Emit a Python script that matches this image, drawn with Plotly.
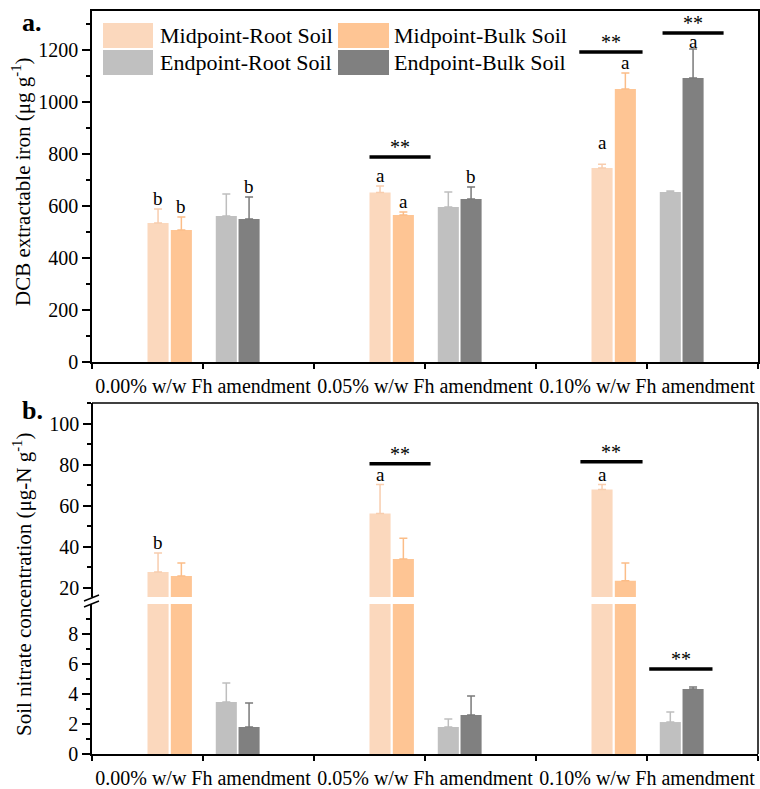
import plotly.graph_objects as go

# ---------------- data ----------------
categories = ["0.00% w/w Fh amendment", "0.05% w/w Fh amendment", "0.10% w/w Fh amendment"]
series_names = ["Midpoint-Root Soil", "Midpoint-Bulk Soil", "Endpoint-Root Soil", "Endpoint-Bulk Soil"]

iron_mid_root = [535, 652, 746]
iron_mid_root_err = [53, 25, 15]
iron_mid_bulk = [508, 565, 1050]
iron_mid_bulk_err = [50, 12, 62]
iron_end_root = [562, 596, 654]
iron_end_root_err = [84, 58, 4]
iron_end_bulk = [550, 627, 1092]
iron_end_bulk_err = [85, 46, 112]

nit_mid_root = [27.7, 56.3, 68.0]
nit_mid_root_err = [9.3, 14.1, 2.4]
nit_mid_bulk = [25.8, 34.0, 23.4]
nit_mid_bulk_err = [6.3, 10.2, 8.7]
nit_end_root = [3.47, 1.8, 2.13]
nit_end_root_err = [1.26, 0.53, 0.67]
nit_end_bulk = [1.8, 2.6, 4.33]
nit_end_bulk_err = [1.6, 1.27, 0.14]

iron_letters = [["b", "a", "a"], ["b", "a", "a"], ["", "", ""], ["b", "b", "a"]]
nit_letters = [["b", "a", "a"], ["", "", ""], ["", "", ""], ["", "", ""]]

# significance bars (x0, x1, y)
iron_sig = [(2.50, 3.05, 788), (4.39, 4.96, 1192), (5.14, 5.69, 1265)]
nit_sig_upper = [(2.50, 3.05, 80.5), (4.40, 4.96, 81.5)]
nit_sig_lower = [(5.02, 5.59, 5.67)]

# ---------------- style ----------------
colors = ["#FBD8BD", "#FEC594", "#C0C0C0", "#808080"]
err_colors = ["#F8CDAE", "#FBBD88", "#BEBEBE", "#7A7A7A"]
offsets = [-0.50, -0.29, 0.115, 0.32]
BAR_W = 0.19
FONT = "Liberation Serif, Times New Roman, serif"

W, H = 760, 789
ML, MR_, MT, MB = 92, 2, 11, 35
PW, PH = W - ML - MR_, H - MT - MB


def pxx(x):
    return (x - ML) / PW


def pxy(y):
    return (H - MB - y) / PH


cat_pos = [2 * i + 1 for i in range(len(categories))]

iron = [(iron_mid_root, iron_mid_root_err), (iron_mid_bulk, iron_mid_bulk_err),
        (iron_end_root, iron_end_root_err), (iron_end_bulk, iron_end_bulk_err)]
nit = [(nit_mid_root, nit_mid_root_err), (nit_mid_bulk, nit_mid_bulk_err),
       (nit_end_root, nit_end_root_err), (nit_end_bulk, nit_end_bulk_err)]

fig = go.Figure()


def add_bars(data, xa, ya):
    for k, (vals, errs) in enumerate(data):
        fig.add_trace(go.Bar(
            x=cat_pos, y=vals, offset=offsets[k], width=BAR_W,
            name=series_names[k], showlegend=False,
            marker=dict(color=colors[k], line=dict(width=0)),
            error_y=dict(type="data", array=errs, arrayminus=[0] * len(errs), symmetric=False,
                         color=err_colors[k], thickness=1.5, width=4),
            xaxis=xa, yaxis=ya, hoverinfo="skip",
        ))


add_bars(iron, "x", "y")
add_bars(nit, "x2", "y2")
add_bars(nit, "x2", "y3")

annotations = []
shapes = []


def add_letters(data, letters, yref, xref, extra=None):
    for k, (vals, errs) in enumerate(data):
        for i, lab in enumerate(letters[k]):
            if not lab:
                continue
            ys = -2
            if extra and (k, i) in extra:
                ys = extra[(k, i)]
            annotations.append(dict(
                x=cat_pos[i] + offsets[k] + BAR_W / 2, y=vals[i] + errs[i],
                xref=xref, yref=yref, text=lab, showarrow=False,
                xanchor="center", yanchor="bottom", yshift=ys,
                font=dict(family=FONT, size=19, color="black")))


add_letters(iron, iron_letters, "y", "x", extra={(0, 2): 9, (3, 2): -5})
add_letters(nit[:1], nit_letters[:1], "y3", "x2")


def add_sig(sigs, xref, yref):
    for x0, x1, y in sigs:
        shapes.append(dict(type="line", xref=xref, yref=yref, x0=x0, x1=x1, y0=y, y1=y,
                           line=dict(color="black", width=3.5)))
        annotations.append(dict(x=(x0 + x1) / 2, y=y, xref=xref, yref=yref, text="**",
                                showarrow=False, xanchor="center", yanchor="bottom", yshift=-3,
                                font=dict(family=FONT, size=20, color="black")))


add_sig(iron_sig, "x", "y")
add_sig(nit_sig_upper, "x2", "y3")
add_sig(nit_sig_lower, "x2", "y2")

# legend (manual)
leg_cols = [(103, 153, 158), (338, 389, 392)]
leg_rows = [(23, 48), (50, 75)]
leg_order = [(0, 0, 0), (1, 1, 0), (2, 0, 1), (3, 1, 1)]
for k, c, r in leg_order:
    x0, x1, xt = leg_cols[c]
    y0, y1 = leg_rows[r]
    shapes.append(dict(type="rect", xref="paper", yref="paper",
                       x0=pxx(x0), x1=pxx(x1), y0=pxy(y1), y1=pxy(y0),
                       fillcolor=colors[k], line=dict(width=0)))
    annotations.append(dict(x=pxx(xt), y=pxy((y0 + y1) / 2), xref="paper", yref="paper",
                            text=series_names[k], showarrow=False, xanchor="left", yanchor="middle",
                            font=dict(family=FONT, size=22, color="black")))

# bottom panel frame: top line, right line, break marks
shapes.append(dict(type="line", xref="paper", yref="paper", x0=pxx(92), x1=pxx(758),
                   y0=pxy(403), y1=pxy(403), line=dict(color="black", width=1.5)))
shapes.append(dict(type="line", xref="paper", yref="paper", x0=pxx(758), x1=pxx(758),
                   y0=pxy(754), y1=pxy(403), line=dict(color="black", width=1.5)))
for dy in (0, 6):
    shapes.append(dict(type="line", xref="paper", yref="paper", x0=pxx(84), x1=pxx(99),
                       y0=pxy(601 + dy), y1=pxy(595 + dy), line=dict(color="black", width=1.5)))

# titles and panel letters
annotations.append(dict(x=pxx(22), y=pxy(182), xref="paper", yref="paper", textangle=-90,
                        xanchor="center", yanchor="middle",
                        text="DCB extractable iron (μg g<sup>-1</sup>)", showarrow=False,
                        font=dict(family=FONT, size=21, color="black")))
annotations.append(dict(x=pxx(22), y=pxy(585), xref="paper", yref="paper", textangle=-90,
                        xanchor="center", yanchor="middle",
                        text="Soil nitrate concentration (μg-N g<sup>-1</sup>)", showarrow=False,
                        font=dict(family=FONT, size=21, color="black")))
annotations.append(dict(x=pxx(32), y=pxy(22), xref="paper", yref="paper", text="<b>a.</b>",
                        xanchor="center", yanchor="middle",
                        showarrow=False, font=dict(family=FONT, size=26, color="black")))
annotations.append(dict(x=pxx(32), y=pxy(410), xref="paper", yref="paper", text="<b>b.</b>",
                        xanchor="center", yanchor="middle",
                        showarrow=False, font=dict(family=FONT, size=26, color="black")))

tick_vals = list(range(0, 2 * len(categories) + 1))
tick_text = []
for v in tick_vals:
    tick_text.append(categories[(v - 1) // 2] if v % 2 == 1 else "")

xcommon = dict(range=[0, 6], tickvals=tick_vals, ticktext=tick_text, tickangle=0,
               ticks="outside", ticklen=5, tickwidth=1.5, tickcolor="black",
               showline=True, linecolor="black", linewidth=1.5, showgrid=False, zeroline=False,
               automargin=False,
               tickfont=dict(family=FONT, size=20, color="black"))
ycommon = dict(ticks="outside", ticklen=8, tickwidth=1.5, tickcolor="black",
               showline=True, linecolor="black", linewidth=1.5, showgrid=False, zeroline=False,
               automargin=False,
               tickfont=dict(family=FONT, size=20, color="black"))

fig.update_layout(
    width=W, height=H,
    margin=dict(l=ML, r=MR_, t=MT, b=MB, autoexpand=False),
    plot_bgcolor="white", paper_bgcolor="white",
    barmode="overlay",
    showlegend=False,
    xaxis=dict(**xcommon, anchor="y", mirror=True),
    yaxis=dict(**ycommon, domain=[pxy(362), 1.0], range=[0, 1350], tickvals=list(range(0, 1201, 200)),
               minor=dict(tickvals=list(range(100, 1400, 200)), ticks="outside", ticklen=4,
                          tickcolor="black", tickwidth=1.5),
               mirror=True, anchor="x"),
    xaxis2=dict(**xcommon, anchor="y2"),
    yaxis2=dict(**ycommon, domain=[0, pxy(604)], range=[0, 10], tickvals=[0, 2, 4, 6, 8],
                minor=dict(tickvals=[1, 3, 5, 7, 9], ticks="outside", ticklen=4,
                           tickcolor="black", tickwidth=1.5),
                anchor="x2"),
    yaxis3=dict(**ycommon, domain=[pxy(597), pxy(403)], range=[15.5, 110.2],
                tickvals=[20, 40, 60, 80, 100],
                minor=dict(tickvals=[30, 50, 70, 90, 110], ticks="outside", ticklen=4,
                           tickcolor="black", tickwidth=1.5),
                anchor="free", position=0),
    annotations=annotations,
    shapes=shapes,
)

fig.write_html("out.html", config={"displayModeBar": False},
               post_script="document.body.style.margin='0';document.body.style.overflow='hidden';")
